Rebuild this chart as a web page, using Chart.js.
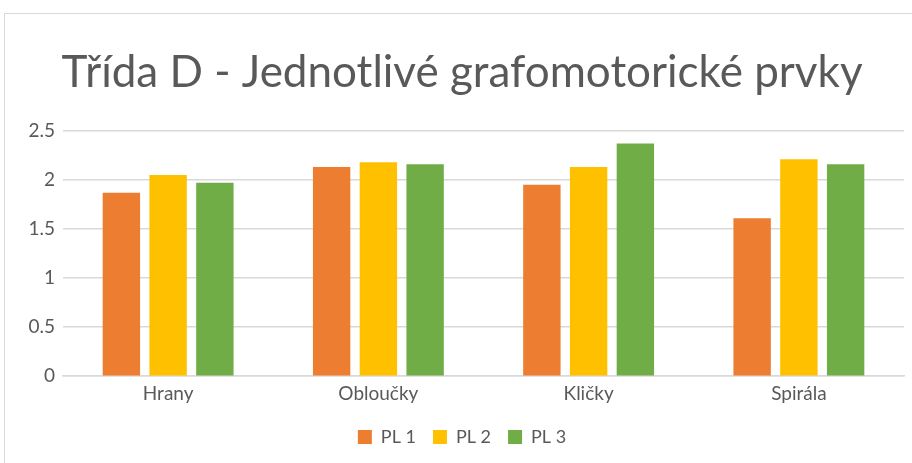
<!DOCTYPE html>
<html>
<head>
<meta charset="utf-8">
<script src="https://cdn.jsdelivr.net/npm/chart.js@4"></script>
<style>
body{margin:0;background:#fff;}
#box{position:absolute;left:4px;top:13px;width:920px;height:470px;border:1px solid #d9d9d9;}
#wrap{position:absolute;left:0;top:0;width:912px;height:463px;}
</style>
</head>
<body>
<div id="box"></div>
<div id="wrap"><canvas id="myChart"></canvas></div>
<script>
var kategorie = ["Hrany", "Obloučky", "Kličky", "Spirála"];
var pl1 = [1.87, 2.13, 1.95, 1.61];
var pl2 = [2.05, 2.18, 2.13, 2.21];
var pl3 = [1.97, 2.16, 2.37, 2.16];
var barvy = ["#ED7D31", "#FFC000", "#70AD47"];

Chart.defaults.font.family = "Lato";
Chart.defaults.color = "#595959";

function sada(nazev, data, barva){
    return {
        label: nazev,
        data: data,
        backgroundColor: barva,
        borderWidth: 0,
        categoryPercentage: 0.667,
        barPercentage: 0.8
    }
}

new Chart("myChart", {
    type: "bar",
    data: {
        labels: kategorie,
        datasets: [
            sada("PL 1", pl1, barvy[0]),
            sada("PL 2", pl2, barvy[1]),
            sada("PL 3", pl3, barvy[2])
        ]
    },
    options: {
        responsive: true,
        maintainAspectRatio: false,
        animation: false,
        layout: {padding: {left: 20, right: 8, top: 0, bottom: 7}},
        plugins: {
            title: {
                display: true,
                text: "Třída D - Jednotlivé grafomotorické prvky",
                font: {size: 44, weight: "normal"},
                color: "#595959",
                padding: {top: 46, bottom: 32}
            },
            legend: {
                position: "bottom",
                labels: {boxWidth: 14, boxHeight: 14, font: {size: 18}, padding: 17}
            },
            tooltip: {enabled: false}
        },
        scales: {
            x: {
                grid: {display: false, drawTicks: false},
                border: {color: "#d9d9d9", width: 1.5},
                ticks: {font: {size: 19}, color: "#595959", padding: 6}
            },
            y: {
                min: 0,
                max: 2.5,
                ticks: {
                    stepSize: 0.5, font: {size: 19}, color: "#595959", padding: 8,
                    callback: function(v){ return String(v); }
                },
                grid: {color: "#d9d9d9", lineWidth: 1.5, drawTicks: false},
                border: {display: false},
                afterFit: function(s){ s.width = 43; }
            }
        }
    }
});
</script>
</body>
</html>
